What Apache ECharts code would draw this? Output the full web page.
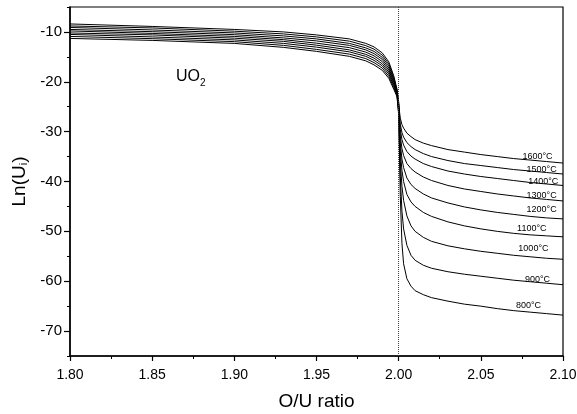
<!DOCTYPE html>
<html>
<head>
<meta charset="utf-8">
<script src="https://cdn.jsdelivr.net/npm/echarts@6/dist/echarts.min.js"></script>
<style>
  html, body { margin: 0; padding: 0; background: #fff; }
  #chart { width: 577px; height: 414px; }
</style>
</head>
<body>
<div id="chart"></div>
<script>
// O/U ratio sample points (shared by all curves)
var oxRatio = [1.80, 1.85, 1.90, 1.93, 1.95, 1.97, 1.98, 1.985, 1.99, 1.994, 1.997, 1.999,
  2.000, 2.0005, 2.001, 2.002, 2.003, 2.005, 2.0075, 2.01, 2.015, 2.02, 2.03, 2.04, 2.05, 2.06, 2.07, 2.08, 2.09, 2.10]

var temps = ['1600', '1500', '1400', '1300', '1200', '1100', '1000', '900', '800']

// Ln(Ui), one array per temperature
var u1600 = [-8.4, -8.9, -9.5, -10.0, -10.6, -11.4, -12.3, -13.0, -14.2, -16.0, -18.8, -21.5,
  -24.0, -26.0, -27.3, -28.6, -29.3, -30.3, -31.0, -31.6, -32.3, -32.8, -33.6, -34.1, -34.6, -35.0, -35.4, -35.7, -36.0, -36.3]
var u1500 = [-8.8, -9.2, -9.85, -10.4, -11.0, -11.85, -12.75, -13.45, -14.65, -16.4, -19.15, -21.7,
  -24.3, -26.8, -28.5, -30.2, -31.1, -32.2, -33.0, -33.6, -34.4, -35.0, -35.8, -36.4, -36.8, -37.2, -37.6, -37.9, -38.2, -38.5]
var u1400 = [-9.1, -9.6, -10.2, -10.8, -11.4, -12.3, -13.2, -13.9, -15.1, -16.8, -19.5, -21.9,
  -24.6, -27.5, -29.6, -31.6, -32.7, -34.0, -34.9, -35.5, -36.4, -37.0, -37.9, -38.5, -39.0, -39.4, -39.8, -40.2, -40.5, -40.8]
var u1300 = [-9.5, -9.95, -10.55, -11.2, -11.8, -12.7, -13.6, -14.35, -15.5, -17.25, -19.8, -22.1,
  -24.9, -28.3, -30.9, -33.4, -34.8, -36.4, -37.4, -38.1, -39.1, -39.8, -40.8, -41.5, -42.0, -42.5, -42.9, -43.3, -43.6, -43.9]
var u1200 = [-9.8, -10.3, -10.9, -11.55, -12.25, -13.15, -14.05, -14.8, -15.95, -17.65, -20.15, -22.25,
  -25.2, -29.2, -32.3, -35.5, -37.2, -39.3, -40.6, -41.4, -42.5, -43.3, -44.3, -45.1, -45.7, -46.2, -46.6, -47.0, -47.3, -47.5]
var u1100 = [-10.2, -10.6, -11.25, -11.9, -12.65, -13.6, -14.5, -15.25, -16.4, -18.05, -20.5, -22.45,
  -25.5, -30.2, -33.9, -37.8, -40.0, -42.6, -44.1, -45.0, -46.2, -47.0, -48.1, -48.9, -49.5, -50.0, -50.4, -50.7, -50.9, -51.1]
var u1000 = [-10.5, -11.0, -11.6, -12.3, -13.05, -14.0, -14.9, -15.7, -16.8, -18.45, -20.8, -22.6,
  -25.8, -31.5, -36.0, -41.0, -43.8, -46.9, -48.9, -50.0, -51.2, -52.0, -52.9, -53.5, -54.0, -54.4, -54.8, -55.1, -55.4, -55.6]
var u900 = [-10.9, -11.35, -11.95, -12.7, -13.5, -14.45, -15.35, -16.15, -17.25, -18.9, -21.15, -22.8,
  -26.2, -33.0, -39.0, -46.0, -49.5, -52.8, -54.8, -55.8, -56.8, -57.4, -58.1, -58.6, -59.0, -59.4, -59.8, -60.1, -60.4, -60.7]
var u800 = [-11.3, -11.7, -12.3, -13.1, -13.9, -14.9, -15.8, -16.6, -17.7, -19.3, -21.5, -23.0,
  -26.6, -35.0, -43.0, -52.5, -56.5, -59.5, -61.0, -61.9, -62.7, -63.3, -64.0, -64.6, -65.0, -65.5, -65.9, -66.2, -66.5, -66.8]

// where the temperature labels sit (data units)
var labelX = [2.0845, 2.087, 2.088, 2.087, 2.087, 2.081, 2.082, 2.0845, 2.079]
var labelY = [-34.9, -37.5, -40.1, -42.8, -45.6, -49.5, -53.4, -59.6, -64.9]

// y axis ticks
var yMajor = [-70, -60, -50, -40, -30, -20, -10]
var yMinor = [-75, -65, -55, -45, -35, -25, -15, -5]

var curves = [u1600, u1500, u1400, u1300, u1200, u1100, u1000, u900, u800]

var myChart = echarts.init(document.getElementById('chart'))

var series = curves.map(function (vals, k) {
  var s = {
    name: temps[k],
    type: 'line',
    xAxisIndex: 0,
    yAxisIndex: 0,
    data: oxRatio.map(function (x, i) { return [x, vals[i]] }),
    smooth: false,
    showSymbol: false,
    lineStyle: { color: '#000', width: 1 },
    itemStyle: { color: '#000' },
    markPoint: {
      symbol: 'circle',
      symbolSize: 0,
      data: [{
        coord: [labelX[k], labelY[k]],
        label: {
          show: true,
          position: 'inside',
          formatter: temps[k] + '°C',
          color: '#000',
          fontSize: 9,
          fontFamily: 'Liberation Sans, Arial, sans-serif'
        }
      }]
    }
  }
  if (k === 0) {
    // stoichiometric O/U = 2.00
    s.markLine = {
      silent: true,
      symbol: 'none',
      label: { show: false },
      lineStyle: { color: '#444', type: 'dotted', width: 1 },
      data: [{ xAxis: 2.0 }]
    }
  }
  return s
})

var option = {
  animation: false,
  backgroundColor: '#fff',
  textStyle: { fontFamily: 'Liberation Sans, Arial, sans-serif' },
  grid: {
    left: 70,
    right: 14,
    top: 7,
    bottom: 58,
    outerBoundsMode: 'none',
    show: true,
    borderColor: '#000',
    borderWidth: 1.2,
    backgroundColor: 'transparent'
  },
  xAxis: [{
    type: 'value',
    min: 1.80,
    max: 2.10,
    interval: 0.05,
    name: 'O/U ratio',
    nameLocation: 'middle',
    nameGap: 36,
    nameTextStyle: { fontSize: 19, color: '#000' },
    axisLine: { show: true, lineStyle: { color: '#000', width: 1.5 } },
    axisTick: { show: true, inside: false, length: 5, lineStyle: { color: '#000', width: 1.2 } },
    minorTick: { show: true, splitNumber: 2, length: 3, lineStyle: { color: '#000', width: 1 } },
    axisLabel: {
      color: '#000',
      fontSize: 14,
      margin: 12,
      formatter: function (v) { return v.toFixed(2) }
    },
    splitLine: { show: false }
  }],
  yAxis: [{
    type: 'value',
    min: -75,
    max: -5,
    interval: 5,
    name: 'Ln(U{s|i})',
    nameLocation: 'middle',
    nameGap: 40,
    nameRotate: 90,
    nameTextStyle: {
      fontSize: 19,
      color: '#000',
      rich: {
        s: { fontSize: 11, verticalAlign: 'bottom', lineHeight: 10, color: '#000' }
      }
    },
    axisLine: { show: true, lineStyle: { color: '#000', width: 1.5 } },
    axisTick: { show: true, length: 6, customValues: yMajor, lineStyle: { color: '#000', width: 1.2 } },
    axisLabel: { color: '#000', fontSize: 15, margin: 8, customValues: yMajor },
    splitLine: { show: false }
  }, {
    type: 'value',
    min: -75,
    max: -5,
    position: 'left',
    axisLine: { show: false },
    axisTick: { show: true, length: 3, customValues: yMinor, lineStyle: { color: '#000', width: 1 } },
    axisLabel: { show: false },
    splitLine: { show: false }
  }],
  graphic: [{
    type: 'text',
    left: 176,
    top: 69,
    style: {
      text: '{a|UO}{b|2}',
      rich: {
        a: { fontSize: 16, lineHeight: 22, fill: '#000', fontFamily: 'Liberation Sans, Arial, sans-serif' },
        b: { fontSize: 10, lineHeight: 10, verticalAlign: 'bottom', fill: '#000', fontFamily: 'Liberation Sans, Arial, sans-serif' }
      }
    }
  }],
  series: series
}

myChart.setOption(option)
</script>
</body>
</html>
